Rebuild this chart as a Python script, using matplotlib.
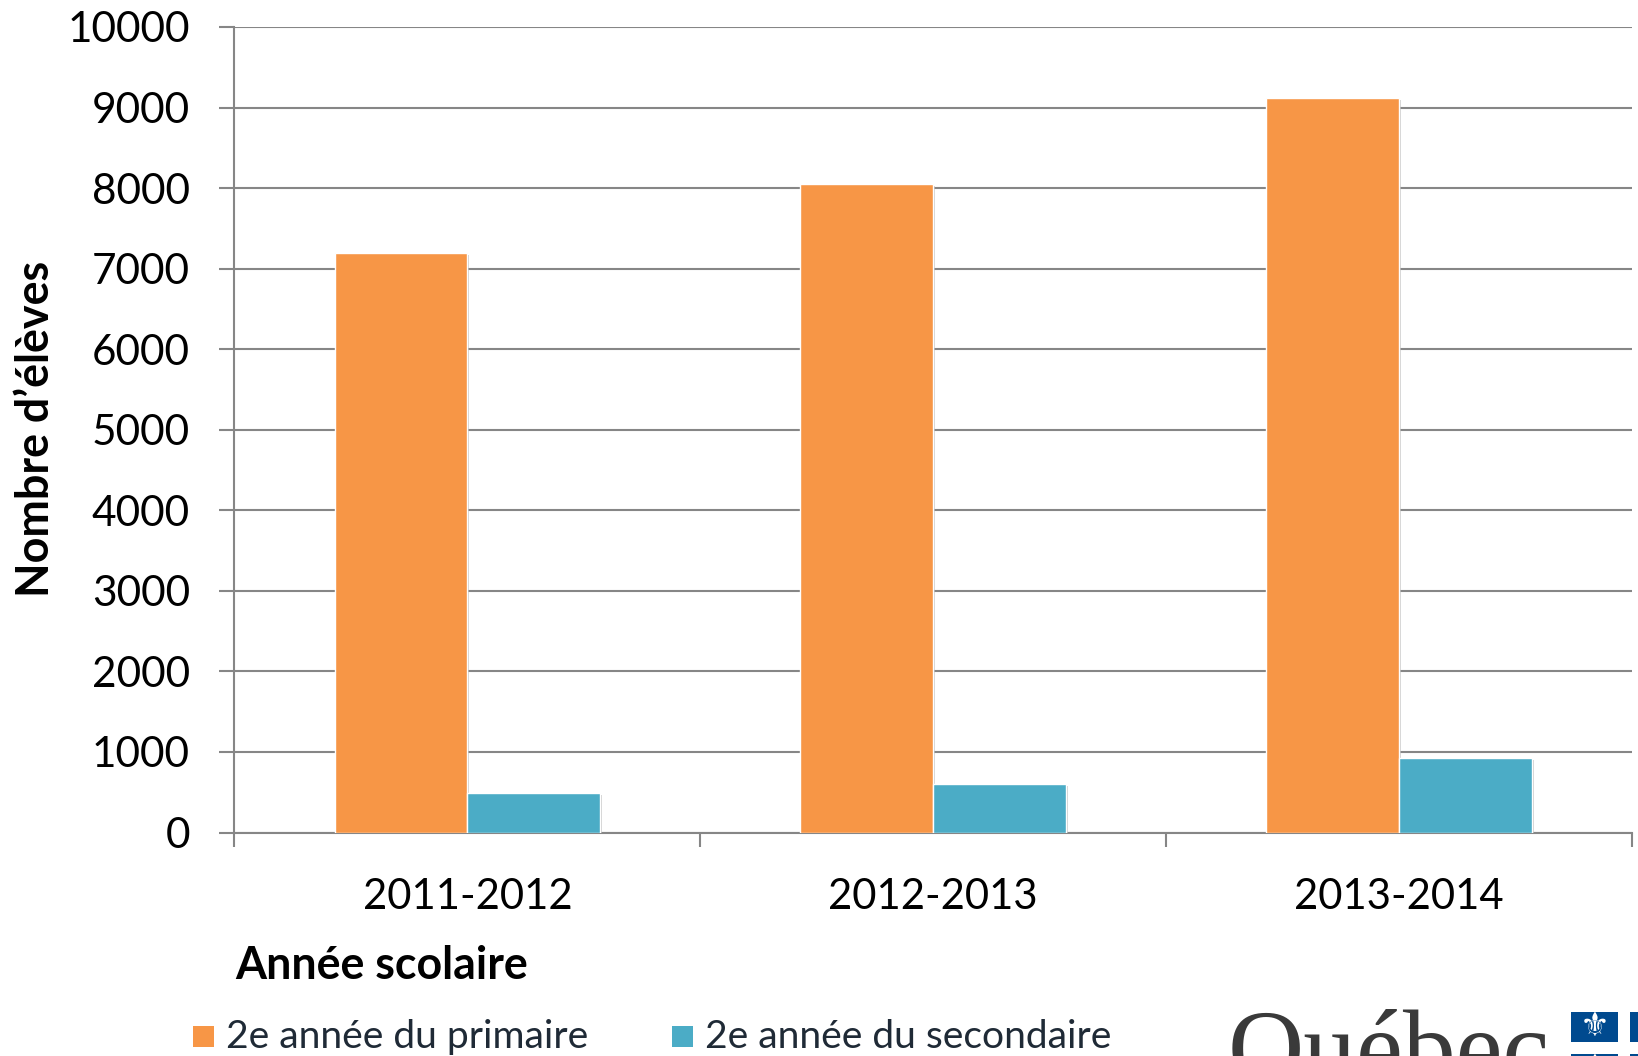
import matplotlib
matplotlib.use('Agg')
import matplotlib.pyplot as plt
import matplotlib.patheffects as pe
from matplotlib.patches import Rectangle
import numpy as np

annees = ['2011-2012', '2012-2013', '2013-2014']
primaire = [7190, 8050, 9120]
secondaire = [490, 600, 920]
y_ticks = [0, 1000, 2000, 3000, 4000, 5000, 6000, 7000, 8000, 9000, 10000]

W, H = 1638, 1056
plt.rcParams['font.family'] = ['Lato', 'DejaVu Sans']

fig = plt.figure(figsize=(W / 100, H / 100), dpi=100, facecolor='white')
# axes box measured in pixels from the reference
left, right, top, bottom = 234.5, 1632, 27, 832.5
ax = fig.add_axes([left / W, 1 - bottom / H, (right - left) / W, (bottom - top) / H])

x = np.arange(len(annees))
bar_w = 0.285
shadow = [pe.SimplePatchShadow(offset=(1.5, -1.5), shadow_rgbFace='#b0b0b0', alpha=0.6), pe.Normal()]
b1 = ax.bar(x - bar_w / 2, primaire, bar_w, color='#F79646', edgecolor='white', linewidth=1.0,
            zorder=3, label='2e année du primaire')
b2 = ax.bar(x + bar_w / 2, secondaire, bar_w, color='#4BACC6', edgecolor='white', linewidth=1.0,
            zorder=3, label='2e année du secondaire')
for b in list(b1) + list(b2):
    b.set_path_effects(shadow)

ax.set_xlim(-0.5, 2.5)
ax.set_ylim(0, 10000)
ax.set_yticks(y_ticks)
ax.set_xticks([-0.5, 0.5, 1.5, 2.5])
ax.set_xticklabels([])
ax.set_xticks(x, minor=True)
ax.set_xticklabels(annees, minor=True, fontsize=30.1)
ax.tick_params(axis='x', which='minor', length=0, pad=33)
ax.tick_params(axis='x', which='major', length=10, width=1.5, color='#868686')
ax.tick_params(axis='y', length=10.5, width=1.5, color='#868686', labelsize=30.5, pad=21.5)
ax.grid(axis='y', color='#868686', linewidth=1.5, zorder=1)
ax.set_axisbelow(True)
for s in ['top', 'right']:
    ax.spines[s].set_visible(False)
for s in ['left', 'bottom']:
    ax.spines[s].set_color('#868686')
    ax.spines[s].set_linewidth(1.5)

fig.text(36 / W, 1 - 429 / H, "Nombre d’élèves", rotation=90, fontsize=32.3, fontweight='bold',
         ha='center', va='center')
fig.text(235 / W, 1 - 966 / H, 'Année scolaire', fontsize=32.2, fontweight='bold', ha='left', va='center')

# legend drawn by hand, spaced like the reference
for px, lab, col in [(193, b1.get_label(), '#F79646'), (672, b2.get_label(), '#4BACC6')]:
    fig.add_artist(Rectangle((px / W, 1 - 1047 / H), 21 / W, 21 / H, transform=fig.transFigure,
                             facecolor=col, edgecolor='none'))
    fig.text((px + 33) / W, 1 - 1037 / H, lab, fontsize=28.1, color='#1f2a36', ha='left', va='center')

# Québec logo, cut off at the bottom of the picture
fig.text(1228 / W, 1 - 1083 / H, 'Québec', family='Liberation Serif', fontsize=76, color='#3a3a3a',
         ha='left', va='baseline', clip_on=False)
for fx, fy in [(1571, 1011.5), (1630, 1011.5), (1571, 1054), (1630, 1054)]:
    fig.add_artist(Rectangle((fx / W, 1 - (fy + 30) / H), 47 / W, 30 / H, transform=fig.transFigure,
                             facecolor='#004A8F', edgecolor='none'))
    fig.text((fx + 23.5) / W, 1 - (fy + 15) / H, '\u269c', family='DejaVu Sans', fontsize=24,
             color='white', ha='center', va='center')

fig.savefig('out.png', dpi=100)
